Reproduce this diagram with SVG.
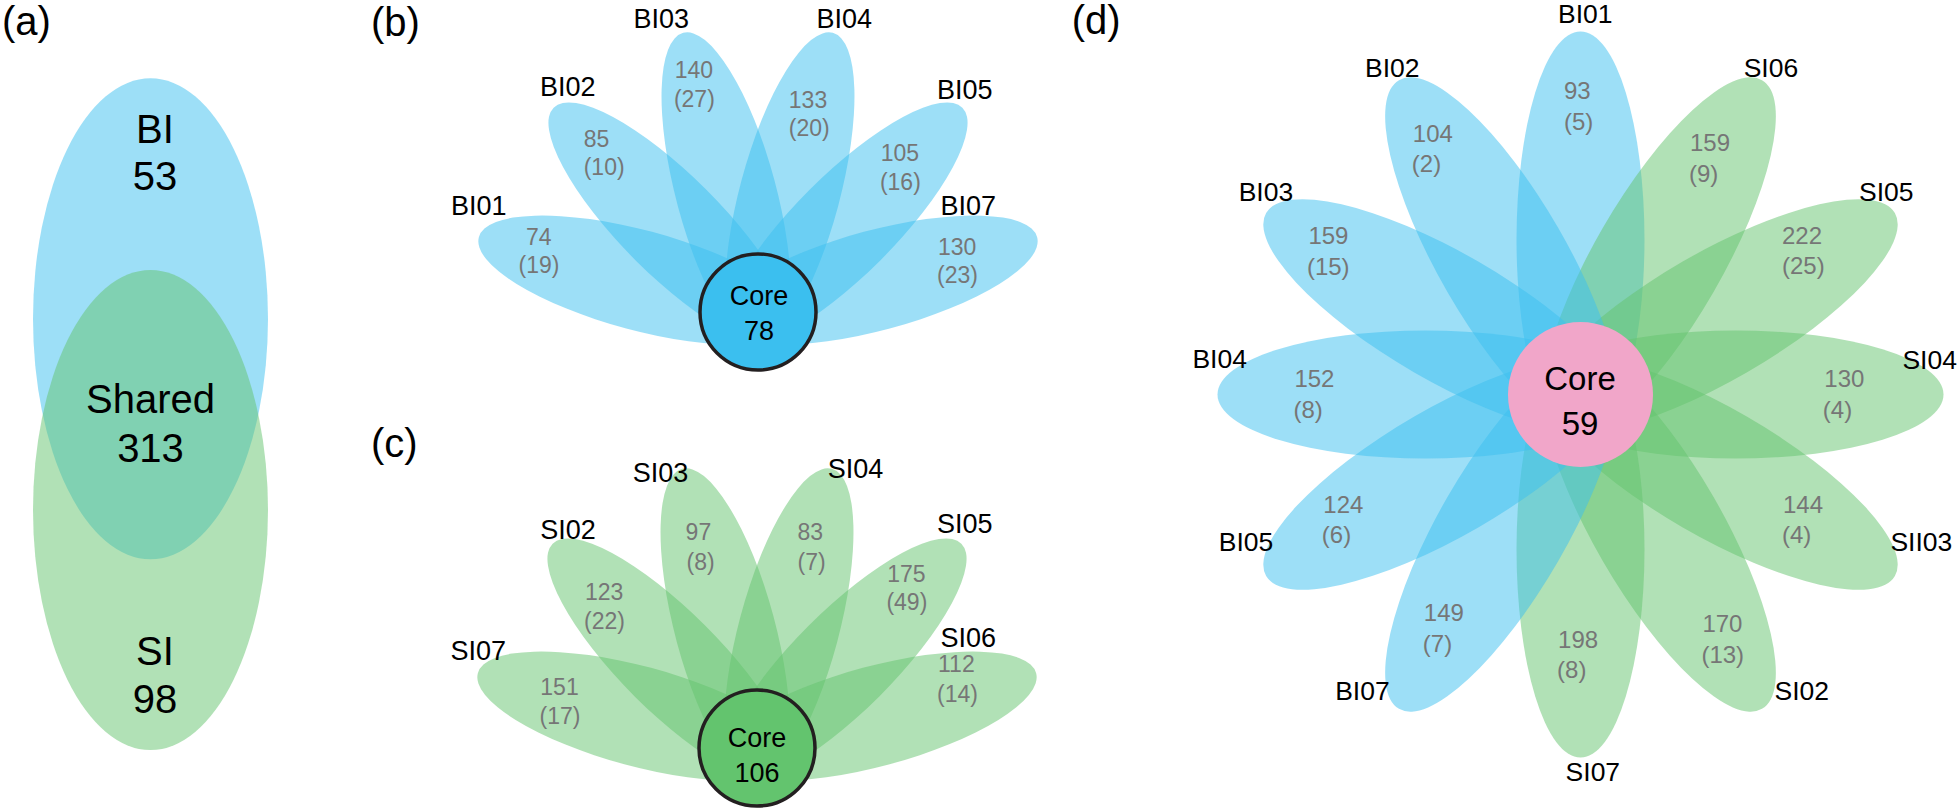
<svg xmlns="http://www.w3.org/2000/svg" width="1960" height="811" viewBox="0 0 1960 811">
<style>
text{font-family:"Liberation Sans",Arial,sans-serif;}
.pl{font-size:40px;fill:#000;}
.big{font-size:40px;fill:#000;text-anchor:middle;}
.lab{font-size:27px;fill:#000;}
.labd{font-size:26.5px;fill:#000;}
.num{font-size:23px;fill:#767676;}
.numd{font-size:24px;fill:#767676;}
.core{font-size:27px;fill:#000;text-anchor:middle;}
.cored{font-size:33px;fill:#000;text-anchor:middle;}
.bp{fill:#3BBFEF;fill-opacity:0.5;}
.gp{fill:#63C46E;fill-opacity:0.5;}
</style>
<rect width="1960" height="811" fill="#fff"/>
<g id="connectors"/>

<!-- Panel a -->
<g id="panel-a">
  <text class="pl" x="2" y="35">(a)</text>
  <g id="a-BI"><ellipse class="bp" cx="150.5" cy="318.8" rx="117.5" ry="240.5"/></g>
  <g id="a-SI"><ellipse class="gp" cx="150.5" cy="510" rx="117.5" ry="240"/></g>
  <text class="big" x="155" y="143">BI</text>
  <text class="big" x="155" y="190">53</text>
  <text class="big" x="150.5" y="413">Shared</text>
  <text class="big" x="150.5" y="461.5">313</text>
  <text class="big" x="155" y="665">SI</text>
  <text class="big" x="155" y="713">98</text>
</g>

<!-- Panel b -->
<g id="panel-b">
  <text class="pl" x="371" y="36">(b)</text>
  <g id="b-BI01"><ellipse class="bp" cx="758" cy="189" rx="50" ry="166" transform="rotate(-75 758 312)"/><text class="lab" x="451" y="215">BI01</text><text class="num" x="526" y="245">74</text><text class="num" x="518.6" y="273">(19)</text></g>
  <g id="b-BI02"><ellipse class="bp" cx="758" cy="189" rx="50" ry="166" transform="rotate(-45 758 312)"/><text class="lab" x="540" y="96">BI02</text><text class="num" x="583.7" y="146.7">85</text><text class="num" x="583.7" y="175">(10)</text></g>
  <g id="b-BI03"><ellipse class="bp" cx="758" cy="189" rx="50" ry="166" transform="rotate(-15 758 312)"/><text class="lab" x="633.6" y="28.3">BI03</text><text class="num" x="674.7" y="78.3">140</text><text class="num" x="673.9" y="106.7">(27)</text></g>
  <g id="b-BI04"><ellipse class="bp" cx="758" cy="189" rx="50" ry="166" transform="rotate(15 758 312)"/><text class="lab" x="816.5" y="28.3">BI04</text><text class="num" x="788.8" y="108.3">133</text><text class="num" x="788.8" y="136">(20)</text></g>
  <g id="b-BI05"><ellipse class="bp" cx="758" cy="189" rx="50" ry="166" transform="rotate(45 758 312)"/><text class="lab" x="937" y="99">BI05</text><text class="num" x="880.7" y="160.7">105</text><text class="num" x="879.9" y="190">(16)</text></g>
  <g id="b-BI07"><ellipse class="bp" cx="758" cy="189" rx="50" ry="166" transform="rotate(75 758 312)"/><text class="lab" x="940.6" y="215">BI07</text><text class="num" x="938" y="255">130</text><text class="num" x="937.1" y="283">(23)</text></g>
  <g id="b-core"><circle cx="758" cy="312" r="58" fill="#3BBFEF" stroke="#231F20" stroke-width="3.5"/><text class="core" x="759" y="305">Core</text><text class="core" x="759" y="340">78</text></g>
</g>

<!-- Panel c -->
<g id="panel-c">
  <text class="pl" x="371" y="457">(c)</text>
  <g id="c-SI07"><ellipse class="gp" cx="757" cy="625" rx="50" ry="166" transform="rotate(-75 757 748)"/><text class="lab" x="450.6" y="660">SI07</text><text class="num" x="540.3" y="695">151</text><text class="num" x="539.5" y="724">(17)</text></g>
  <g id="c-SI02"><ellipse class="gp" cx="757" cy="625" rx="50" ry="166" transform="rotate(-45 757 748)"/><text class="lab" x="540.3" y="539.3">SI02</text><text class="num" x="585" y="600">123</text><text class="num" x="584.1" y="629.3">(22)</text></g>
  <g id="c-SI03"><ellipse class="gp" cx="757" cy="625" rx="50" ry="166" transform="rotate(-15 757 748)"/><text class="lab" x="632.7" y="481.7">SI03</text><text class="num" x="685.6" y="540">97</text><text class="num" x="686.5" y="570">(8)</text></g>
  <g id="c-SI04"><ellipse class="gp" cx="757" cy="625" rx="50" ry="166" transform="rotate(15 757 748)"/><text class="lab" x="827.8" y="478.3">SI04</text><text class="num" x="797.5" y="540">83</text><text class="num" x="797.5" y="570">(7)</text></g>
  <g id="c-SI05"><ellipse class="gp" cx="757" cy="625" rx="50" ry="166" transform="rotate(45 757 748)"/><text class="lab" x="937" y="533.3">SI05</text><text class="num" x="887.2" y="581.7">175</text><text class="num" x="886.4" y="610">(49)</text></g>
  <g id="c-SI06"><ellipse class="gp" cx="757" cy="625" rx="50" ry="166" transform="rotate(75 757 748)"/><text class="lab" x="940.6" y="646.7">SI06</text><text class="num" x="938" y="671.7">112</text><text class="num" x="937.1" y="701.7">(14)</text></g>
  <g id="c-core"><circle cx="757" cy="748" r="58" fill="#63C46E" stroke="#231F20" stroke-width="3.5"/><text class="core" x="757" y="746.7">Core</text><text class="core" x="757" y="781.7">106</text></g>
</g>

<!-- Panel d -->
<g id="panel-d">
  <text class="pl" x="1071.7" y="34">(d)</text>
  <g id="d-BI01"><ellipse class="bp" cx="1580.5" cy="239.5" rx="64" ry="208" transform="rotate(0 1580.5 394.5)"/></g>
  <g id="d-SI06"><ellipse class="gp" cx="1580.5" cy="239.5" rx="64" ry="208" transform="rotate(30 1580.5 394.5)"/></g>
  <g id="d-SI05"><ellipse class="gp" cx="1580.5" cy="239.5" rx="64" ry="208" transform="rotate(60 1580.5 394.5)"/></g>
  <g id="d-SI04"><ellipse class="gp" cx="1580.5" cy="239.5" rx="64" ry="208" transform="rotate(90 1580.5 394.5)"/></g>
  <g id="d-SII03"><ellipse class="gp" cx="1580.5" cy="239.5" rx="64" ry="208" transform="rotate(120 1580.5 394.5)"/></g>
  <g id="d-SI02"><ellipse class="gp" cx="1580.5" cy="239.5" rx="64" ry="208" transform="rotate(150 1580.5 394.5)"/></g>
  <g id="d-SI07"><ellipse class="gp" cx="1580.5" cy="239.5" rx="64" ry="208" transform="rotate(180 1580.5 394.5)"/></g>
  <g id="d-BI07"><ellipse class="bp" cx="1580.5" cy="239.5" rx="64" ry="208" transform="rotate(210 1580.5 394.5)"/></g>
  <g id="d-BI05"><ellipse class="bp" cx="1580.5" cy="239.5" rx="64" ry="208" transform="rotate(240 1580.5 394.5)"/></g>
  <g id="d-BI04"><ellipse class="bp" cx="1580.5" cy="239.5" rx="64" ry="208" transform="rotate(270 1580.5 394.5)"/></g>
  <g id="d-BI03"><ellipse class="bp" cx="1580.5" cy="239.5" rx="64" ry="208" transform="rotate(300 1580.5 394.5)"/></g>
  <g id="d-BI02"><ellipse class="bp" cx="1580.5" cy="239.5" rx="64" ry="208" transform="rotate(330 1580.5 394.5)"/></g>
  <g id="d-core"><circle cx="1580.5" cy="394.5" r="72.5" fill="#F1A6C9"/><text class="cored" x="1580" y="390">Core</text><text class="cored" x="1580" y="435">59</text></g>
  <g id="d-labels">
    <text class="labd" x="1558" y="23.3">BI01</text>
    <text class="labd" x="1365" y="77.3">BI02</text>
    <text class="labd" x="1743.7" y="76.7">SI06</text>
    <text class="labd" x="1238.7" y="201">BI03</text>
    <text class="labd" x="1859" y="201">SI05</text>
    <text class="labd" x="1192.4" y="368.3">BI04</text>
    <text class="labd" x="1902.4" y="369.3">SI04</text>
    <text class="labd" x="1218.8" y="551">BI05</text>
    <text class="labd" x="1890.4" y="551">SII03</text>
    <text class="labd" x="1335.2" y="700">BI07</text>
    <text class="labd" x="1774.5" y="700">SI02</text>
    <text class="labd" x="1565.6" y="781">SI07</text>
  </g>
  <g id="d-numbers">
    <text class="numd" x="1564" y="99.3">93</text><text class="numd" x="1564" y="130">(5)</text>
    <text class="numd" x="1412.8" y="141.7">104</text><text class="numd" x="1411.8" y="172.3">(2)</text>
    <text class="numd" x="1690" y="150.7">159</text><text class="numd" x="1689" y="181.7">(9)</text>
    <text class="numd" x="1308.4" y="244">159</text><text class="numd" x="1306.9" y="275">(15)</text>
    <text class="numd" x="1782" y="244">222</text><text class="numd" x="1782" y="274">(25)</text>
    <text class="numd" x="1294.4" y="386.7">152</text><text class="numd" x="1293.4" y="418.3">(8)</text>
    <text class="numd" x="1824.3" y="386.7">130</text><text class="numd" x="1822.8" y="418.3">(4)</text>
    <text class="numd" x="1323.3" y="512.7">124</text><text class="numd" x="1321.8" y="543.3">(6)</text>
    <text class="numd" x="1783" y="512.7">144</text><text class="numd" x="1782" y="543.3">(4)</text>
    <text class="numd" x="1423.8" y="620.7">149</text><text class="numd" x="1422.8" y="651.7">(7)</text>
    <text class="numd" x="1558.1" y="648.3">198</text><text class="numd" x="1557.1" y="678.3">(8)</text>
    <text class="numd" x="1702.4" y="631.7">170</text><text class="numd" x="1701.4" y="663.3">(13)</text>
  </g>
</g>
</svg>
